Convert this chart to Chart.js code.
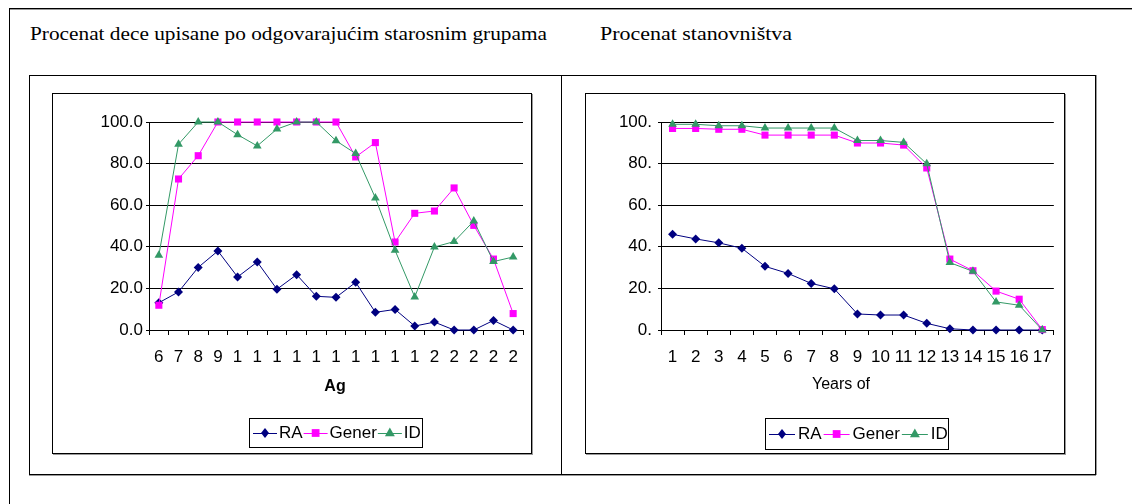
<!DOCTYPE html>
<html>
<head>
<meta charset="utf-8">
<script src="https://cdn.jsdelivr.net/npm/chart.js@4.4.1/dist/chart.umd.min.js"></script>
<style>
  body { margin: 0; background: #fff; width: 1132px; height: 504px; position: relative; overflow: hidden; }
  .ln { position: absolute; background: #000; }
  .cap { position: absolute; font-family: "Liberation Serif", "Times New Roman", serif; font-size: 18px;
         color: #000; white-space: nowrap; transform-origin: 0 50%; line-height: 20px; }
  .box { position: absolute; top: 93px; width: 478px; height: 359px; border: 1px solid #000;
         box-shadow: 1px 1px 0 #999; background: #fff; }
  .box canvas { display: block; }
</style>
</head>
<body>
<!-- frame and table lines -->
<div class="ln" style="left:9px;top:8px;width:1123px;height:1px;box-shadow:0 1px 0 #999"></div>
<div class="ln" style="left:9px;top:8px;width:1px;height:496px"></div>
<div class="ln" style="left:29px;top:75px;width:1067px;height:1px"></div>
<div class="ln" style="left:29px;top:474px;width:1067px;height:1px;box-shadow:0 1px 0 #999"></div>
<div class="ln" style="left:29px;top:75px;width:1px;height:400px"></div>
<div class="ln" style="left:561px;top:75px;width:1px;height:400px"></div>
<div class="ln" style="left:1095px;top:75px;width:1px;height:400px;box-shadow:1px 0 0 #999"></div>

<div class="cap" id="t1" style="left:30px;top:24px" data-w="517">Procenat dece upisane po odgovarajućim starosnim grupama</div>
<div class="cap" id="t2" style="left:600px;top:24px" data-w="192">Procenat stanovništva</div>

<div class="box" style="left:52px"><canvas id="ageChart" width="478" height="359"></canvas></div>
<div class="box" style="left:585px"><canvas id="yearsChart" width="478" height="359"></canvas></div>

<script>
// left chart: enrolment by age (labels cut to one character, as in the picture)
const ageLabels = ['6', '7', '8', '9', '1', '1', '1', '1', '1', '1', '1', '1', '1', '1', '2', '2', '2', '2', '2'];
const ageRA    = [13.1, 18.3, 30.1, 38.0, 25.5, 32.7, 19.6, 26.6, 16.2, 15.7, 22.9, 8.5, 9.9, 1.9, 3.8, 0, 0, 4.6, 0];
const ageGener = [11.9, 72.6, 83.8, 100, 100, 100, 100, 100, 100, 100, 83.2, 90.1, 42.3, 56.1, 57.2, 68.3, 50.3, 34.1, 7.9];
const ageID    = [35.9, 89.3, 100, 100, 93.9, 88.5, 96.6, 100, 100, 91.0, 84.8, 63.5, 38.3, 15.9, 39.9, 42.5, 52.4, 32.9, 35.1];

// right chart: population by years of schooling
const yearsLabels = ['1', '2', '3', '4', '5', '6', '7', '8', '9', '10', '11', '12', '13', '14', '15', '16', '17'];
const yearsRA    = [46.0, 43.8, 41.9, 39.3, 30.6, 27.2, 22.4, 19.8, 7.7, 7.2, 7.2, 3.2, 0.6, 0, 0, 0, 0];
const yearsGener = [96.9, 96.9, 96.5, 96.5, 93.7, 93.7, 93.7, 93.7, 89.9, 89.9, 88.9, 77.9, 34.1, 28.5, 18.7, 14.8, 0.2];
const yearsID    = [98.9, 98.9, 98.2, 98.2, 97.1, 97.1, 97.1, 97.1, 91.1, 91.1, 90.2, 79.9, 32.4, 28.2, 13.5, 11.9, 0];

const legendNames = ['RA', 'Gener', 'ID'];

const FONT = '"Liberation Sans", Arial, sans-serif';
Chart.defaults.color = '#000';
Chart.defaults.font.family = FONT;

// stretch the two captions to their measured width
document.querySelectorAll('.cap').forEach(el => {
  const w = el.getBoundingClientRect().width;
  el.style.transform = 'scaleX(' + (el.dataset.w / w) + ')';
});

function drawMarker(ctx, style, x, y, r) {
  ctx.beginPath();
  if (style === 'rectRot') {
    ctx.moveTo(x, y - r); ctx.lineTo(x + r * 0.8, y); ctx.lineTo(x, y + r); ctx.lineTo(x - r * 0.8, y);
  } else if (style === 'rect') {
    const s = r * Math.SQRT1_2;
    ctx.rect(x - s, y - s, 2 * s, 2 * s);
  } else {
    ctx.moveTo(x, y - r); ctx.lineTo(x + r * 0.9, y + r * 0.6); ctx.lineTo(x - r * 0.9, y + r * 0.6);
  }
  ctx.closePath();
  ctx.fill();
}

// excel-like boxed legend + axis caption
const boxLegend = {
  id: 'boxLegend',
  afterDraw(chart, args, o) {
    const ctx = chart.ctx;
    ctx.save();
    ctx.fillStyle = '#000';
    ctx.textAlign = 'center';
    ctx.textBaseline = 'middle';
    ctx.font = (o.bold ? 'bold ' : '') + '16px ' + FONT;
    ctx.fillText(o.caption, o.capX, o.capY);

    ctx.fillStyle = '#fff';
    ctx.fillRect(o.x, o.y, o.w, o.h);
    ctx.strokeStyle = '#000';
    ctx.lineWidth = 1;
    ctx.strokeRect(o.x + 0.5, o.y + 0.5, o.w - 1, o.h - 1);

    const cy = o.y + o.h / 2;
    let x = o.x + o.pad;
    ctx.font = '17px ' + FONT;
    ctx.textAlign = 'left';
    chart.data.datasets.forEach(ds => {
      ctx.strokeStyle = ds.borderColor;
      ctx.beginPath();
      ctx.moveTo(x, Math.round(cy) + 0.5);
      ctx.lineTo(x + o.line, Math.round(cy) + 0.5);
      ctx.stroke();
      ctx.fillStyle = ds.pointBackgroundColor;
      drawMarker(ctx, ds.pointStyle, x + o.line / 2, cy, ds.pointRadius + 0.5);
      x += o.line + o.gapText;
      ctx.fillStyle = '#000';
      ctx.fillText(ds.label, x, cy);
      x += ctx.measureText(ds.label).width + o.gapLine;
    });
    ctx.restore();
  }
};

function series(label, data, color, style, radius, order) {
  return {
    label: label, data: data, borderColor: color, backgroundColor: color,
    pointBackgroundColor: color, pointBorderColor: color, pointBorderWidth: 0,
    pointStyle: style, pointRadius: radius, borderWidth: 1, order: order, clip: false
  };
}

function makeChart(id, labels, ra, gener, idv, opts) {
  new Chart(document.getElementById(id), {
    type: 'line',
    data: {
      labels: labels,
      datasets: [
        series(legendNames[0], ra, '#000080', 'rectRot', 4.5, 3),
        series(legendNames[1], gener, '#FF00FF', 'rect', 5, 2),
        series(legendNames[2], idv, '#339966', 'triangle', 5, 1)
      ]
    },
    options: {
      responsive: false,
      devicePixelRatio: 1,
      animation: false,
      events: [],
      layout: { padding: { top: 28, right: opts.padRight, left: 0, bottom: 0 } },
      scales: {
        x: {
          offset: true,
          grid: { offset: true, drawOnChartArea: false, color: '#000', tickLength: 5 },
          border: { color: '#000' },
          ticks: { autoSkip: false, maxRotation: 0, padding: 12, font: { size: 17 } },
          afterFit: s => { s.height = 123; }
        },
        y: {
          min: 0, max: 100,
          grid: { color: '#000', tickLength: 3 },
          border: { color: '#000' },
          ticks: { stepSize: 20, padding: opts.yPad, font: { size: 17 }, callback: opts.fmt },
          afterFit: s => { s.width = opts.yWidth; }
        }
      },
      plugins: {
        legend: { display: false },
        tooltip: { enabled: false },
        boxLegend: opts.legend
      }
    },
    plugins: [boxLegend]
  });
}

makeChart('ageChart', ageLabels, ageRA, ageGener, ageID, {
  yWidth: 96, padRight: 8, yPad: 3,
  fmt: v => v.toFixed(1),
  legend: { caption: 'Ag', bold: true, capX: 282, capY: 293,
            x: 196, y: 324, w: 174, h: 30, pad: 4, line: 24, gapText: 2, gapLine: 1 }
});

makeChart('yearsChart', yearsLabels, yearsRA, yearsGener, yearsID, {
  yWidth: 75, padRight: 9, yPad: 6,
  fmt: v => v + '.',
  legend: { caption: 'Years of', bold: false, capX: 255, capY: 291,
            x: 179, y: 324, w: 184, h: 32, pad: 4, line: 26, gapText: 3, gapLine: 2 }
});
</script>
</body>
</html>
